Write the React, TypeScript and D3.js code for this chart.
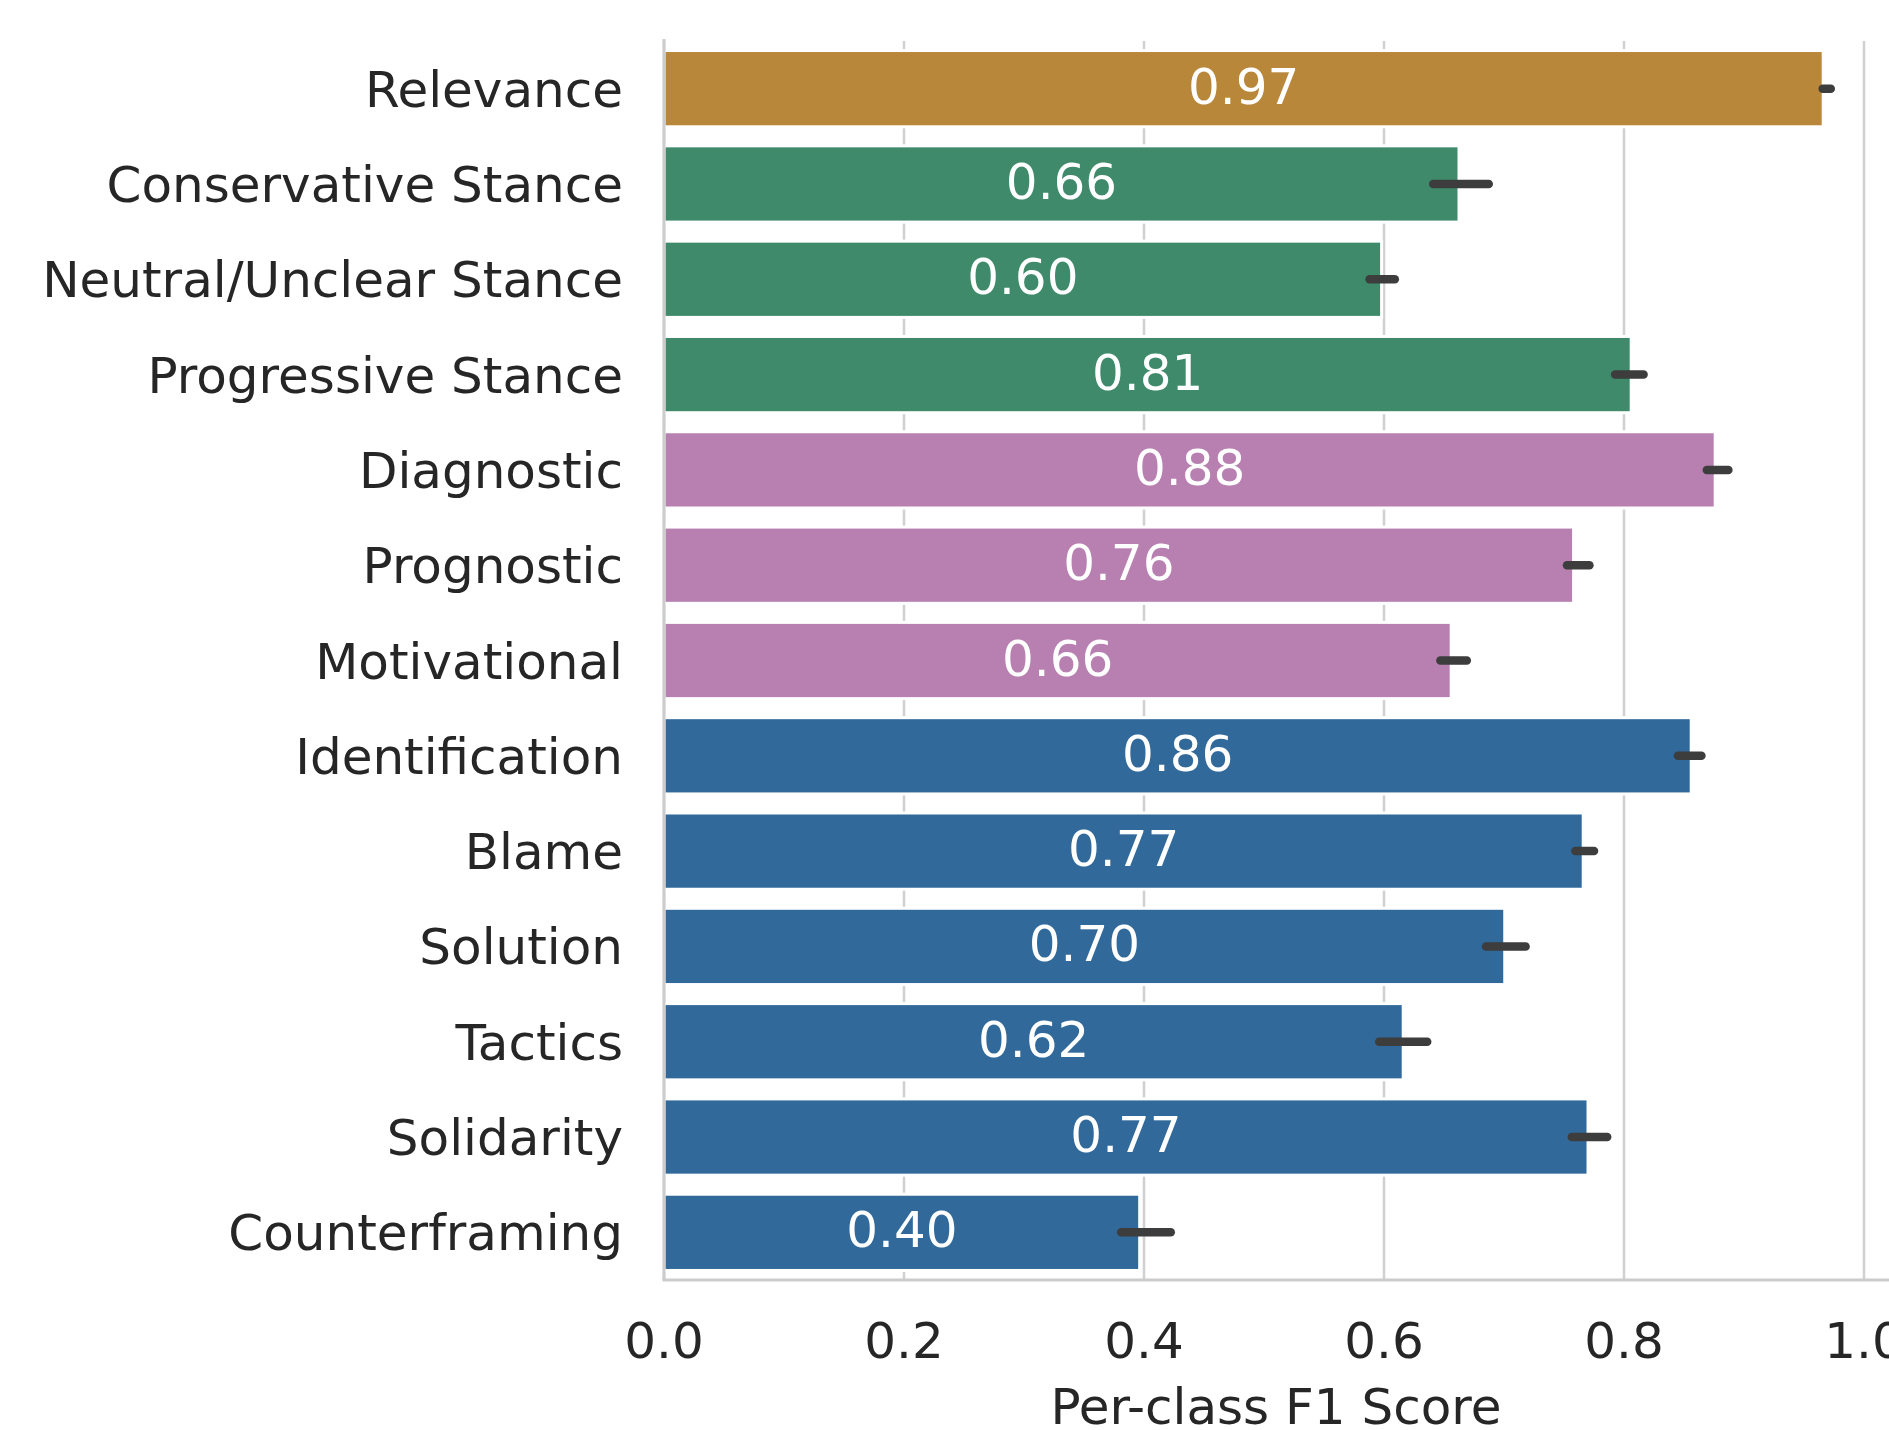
import React from "react";
import * as d3 from "d3";

const categories = [
  "Relevance",
  "Conservative Stance",
  "Neutral/Unclear Stance",
  "Progressive Stance",
  "Diagnostic",
  "Prognostic",
  "Motivational",
  "Identification",
  "Blame",
  "Solution",
  "Tactics",
  "Solidarity",
  "Counterframing",
];
const values = [0.966, 0.6625, 0.598, 0.806, 0.876, 0.758, 0.656, 0.856, 0.766, 0.7006, 0.616, 0.77, 0.3964];
const ciLow = [0.9656, 0.641, 0.588, 0.7926, 0.869, 0.7525, 0.647, 0.845, 0.7595, 0.685, 0.596, 0.7565, 0.381];
const ciHigh = [0.9723, 0.6873, 0.609, 0.8163, 0.887, 0.7712, 0.669, 0.8645, 0.775, 0.718, 0.636, 0.786, 0.4223];
const groups = [
  "relevance",
  "stance", "stance", "stance",
  "task", "task", "task",
  "frame", "frame", "frame", "frame", "frame", "frame",
];
const groupNames = ["relevance", "stance", "task", "frame"];
const groupColors = ["#B9873A", "#3F8A6B", "#B880B1", "#31699A"];
const xTicks = [0, 0.2, 0.4, 0.6, 0.8, 1.0];
const xLabel = "Per-class F1 Score";

const W = 1889;
const H = 1430;
const FONT = "'DejaVu Sans', sans-serif";

export default function App() {
  const left = 664;
  const top = 41;
  const bottom = 1280;
  const x = d3.scaleLinear().domain([0, 1.02]).range([left, 1888]);
  const y = d3.scaleBand<string>().domain(categories).range([top, bottom]).paddingInner(0.2).paddingOuter(0.1);
  const color = d3.scaleOrdinal<string, string>().domain(groupNames).range(groupColors);
  const fmt = d3.format(".2f");
  const tfmt = d3.format(".1f");
  const bw = y.bandwidth();
  const axisCenter = (x.range()[0] + x.range()[1]) / 2;

  return (
    <svg
      width={W}
      height={H}
      viewBox={`0 0 ${W} ${H}`}
      style={{ position: "absolute", left: 0, top: 0, display: "block", background: "#fff" }}
    >
      <rect x={0} y={0} width={W} height={H} fill="#ffffff" />
      {/* grid */}
      {xTicks.map((t) => (
        <line key={"g" + t} x1={x(t)} x2={x(t)} y1={top} y2={bottom} stroke="#d0d0d0" strokeWidth={2.5} />
      ))}
      {/* bars */}
      {categories.map((c, i) => (
        <rect
          key={"b" + c}
          x={x(0)}
          y={y(c)!}
          width={x(values[i]) - x(0)}
          height={bw}
          fill={color(groups[i])}
          stroke="#ffffff"
          strokeWidth={3}
        />
      ))}
      {/* error bars */}
      {categories.map((c, i) => (
        <line
          key={"e" + c}
          x1={x(ciLow[i])}
          x2={x(ciHigh[i])}
          y1={y(c)! + bw / 2}
          y2={y(c)! + bw / 2}
          stroke="#3d3d3d"
          strokeWidth={8.5}
          strokeLinecap="round"
        />
      ))}
      {/* value labels */}
      {categories.map((c, i) => (
        <text
          key={"v" + c}
          x={(x(0) + x(values[i])) / 2}
          y={y(c)! + bw / 2 + 15}
          textAnchor="middle"
          fontFamily={FONT}
          fontSize={50}
          fill="#ffffff"
        >
          {fmt(values[i])}
        </text>
      ))}
      {/* spines */}
      <line x1={left} x2={left} y1={top - 2} y2={bottom} stroke="#cccccc" strokeWidth={3} />
      <line x1={left - 1.5} x2={W} y1={bottom} y2={bottom} stroke="#cccccc" strokeWidth={3} />
      {/* y tick labels */}
      {categories.map((c) => (
        <text
          key={"y" + c}
          x={623}
          y={y(c)! + bw / 2 + 18}
          textAnchor="end"
          fontFamily={FONT}
          fontSize={50}
          fill="#262626"
        >
          {c}
        </text>
      ))}
      {/* x tick labels */}
      {xTicks.map((t) => (
        <text
          key={"x" + t}
          x={x(t)}
          y={1358}
          textAnchor="middle"
          fontFamily={FONT}
          fontSize={50}
          fill="#262626"
        >
          {tfmt(t)}
        </text>
      ))}
      <text x={axisCenter} y={1424} textAnchor="middle" fontFamily={FONT} fontSize={50} fill="#262626">
        {xLabel}
      </text>
    </svg>
  );
}
